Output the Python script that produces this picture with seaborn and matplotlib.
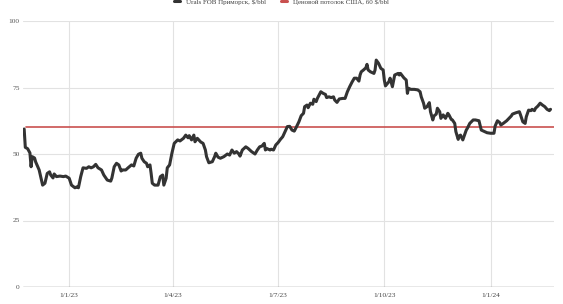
import pandas as pd
import numpy as np
import matplotlib
matplotlib.use("Agg")
import matplotlib.pyplot as plt
import matplotlib.dates as mdates
import seaborn as sns

base_date = "2023-01-01"
urals_day_offsets = [
    -39, -38, -36, -34, -33, -32, -30, -29, -26, -24, -23, -21, -19, -17, -16, -14, -13, -11, -8, -5, -3,
    0, 2, 5, 7, 8, 10, 12, 15, 17, 19, 21, 23, 25, 28, 30, 33, 36, 37, 39, 41, 43, 45, 46, 49, 51, 54, 56,
    58, 60, 62, 63, 65, 67, 68, 70, 71, 72, 74, 77, 79, 81, 82, 84, 85, 87, 89, 91, 94, 96, 99, 101, 103,
    104, 106, 108, 109, 111, 114, 116, 118, 119, 121, 124, 126, 127, 129, 131, 134, 137, 139, 141, 143,
    145, 147, 148, 150, 153, 155, 158, 161, 163, 165, 167, 169, 170, 171, 174, 175, 177, 179, 181, 183,
    185, 187, 189, 191, 193, 195, 197, 199, 201, 203, 204, 206, 207, 209, 211, 212, 214, 215, 218, 220,
    222, 223, 225, 227, 229, 230, 232, 234, 237, 239, 241, 243, 245, 247, 249, 251, 252, 253, 255, 257,
    258, 259, 261, 264, 265, 266, 268, 270, 272, 273, 274, 277, 278, 280, 282, 285, 286, 287, 290, 292,
    293, 294, 296, 299, 302, 304, 305, 307, 308, 310, 312, 313, 315, 316, 318, 319, 321, 322, 324, 325,
    326, 328, 329, 331, 332, 334, 335, 337, 338, 339, 341, 342, 344, 345, 347, 350, 352, 355, 357, 360,
    362, 365, 368, 369, 371, 373, 374, 376, 379, 381, 383, 384, 387, 390, 391, 393, 395, 396, 398, 400,
    401, 403, 404, 406, 408, 410, 412, 414, 416, 417,
]
urals_values = [
    59.4, 52.5, 52.0, 50.4, 45.2, 49.0, 48.5, 47.0, 44.0, 40.2, 38.3, 39.0, 42.7, 43.3, 42.1, 41.0, 42.5, 41.5, 41.7, 41.5, 41.7,
    40.9, 38.3, 37.3, 37.7, 37.3, 41.5, 44.8, 44.6, 45.2, 44.8, 45.2, 46.1, 44.8, 44.0, 42.1, 40.2, 39.8, 41.0, 45.2, 46.5, 45.9, 43.6, 44.0, 44.0, 44.8, 45.9, 45.5,
    48.4, 49.9, 50.3, 48.4, 47.1, 46.5, 45.2, 45.9, 42.7, 39.0, 38.3, 38.3, 41.5, 42.1, 38.3, 40.9, 44.8, 45.9, 50.3, 54.0, 55.3, 54.9, 55.9, 57.1, 56.1,
    56.9, 55.3, 57.1, 54.6, 55.9, 54.5, 54.0, 51.5, 49.0, 46.7, 47.1, 49.0, 50.3, 48.8, 48.4, 49.0, 50.0, 49.6, 51.5, 50.3,
    50.9, 50.0, 49.2, 51.5, 52.7, 52.1, 50.9, 50.0, 51.5, 52.7, 53.0, 54.0, 51.5, 52.1, 51.5, 51.8, 51.5, 53.4, 54.3, 55.5,
    56.5, 58.4, 60.3, 60.4, 59.0, 58.6, 60.3, 62.1, 64.4, 65.3, 67.8, 68.4, 67.4, 69.1, 68.7, 70.6, 69.7, 70.9, 73.4, 72.8,
    72.4, 71.2, 71.5, 71.2, 71.5, 70.3, 69.4, 70.7, 70.9, 70.9, 73.4, 75.3, 77.0, 78.5, 78.5, 77.4, 79.7, 80.9, 81.6, 82.4,
    83.7, 81.6, 80.9, 80.3, 81.6, 85.3, 84.1, 82.2, 81.6, 77.8, 75.6, 77.2, 78.5, 75.3, 79.7, 80.3, 79.7, 80.3, 78.6, 77.8,
    72.8, 74.7, 74.3, 74.3, 74.1, 73.4, 71.5, 69.1, 67.2, 67.8, 69.3, 65.9, 62.8, 64.3, 65.0, 67.2, 65.9, 63.4, 64.7, 64.0,
    63.4, 65.3, 64.7, 63.0, 62.8, 61.5, 58.4, 55.5, 56.8, 57.1, 55.3, 56.5, 59.0, 59.7, 61.5, 62.8, 62.8, 62.5, 59.0, 58.4,
    58.0, 57.8, 57.8, 60.5, 62.5, 61.8, 60.9, 61.5, 62.5, 63.4, 64.3, 65.0, 65.5, 65.9, 64.7, 62.1, 61.5, 64.0, 66.5, 66.3,
    66.8, 66.3, 67.2, 68.0, 69.1, 68.4, 67.8, 66.8, 66.3, 66.8,
]
cap_day_offsets = [-37, 420]
cap_values = [60, 60]
series_labels = ["Urals FOB Приморск, $/bbl", "Ценовой потолок США, 60 $/bbl"]
x_tick_dates = ["2023-01-01", "2023-04-01", "2023-07-01", "2023-10-01", "2024-01-01"]
x_tick_labels = ["1/1/23", "1/4/23", "1/7/23", "1/10/23", "1/1/24"]
y_ticks = [0, 25, 50, 75, 100]

b = pd.Timestamp(base_date)
urals = pd.DataFrame({"date": b + pd.to_timedelta(urals_day_offsets, unit="D"), "value": urals_values})
cap = pd.DataFrame({"date": b + pd.to_timedelta(cap_day_offsets, unit="D"), "value": cap_values})

sns.set_style("white")
plt.rcParams["font.family"] = ["Liberation Serif", "DejaVu Serif"]

fig = plt.figure(figsize=(5.63, 3.04), dpi=100)
ax = fig.add_axes([23 / 563, 1 - 287 / 304, (554 - 23) / 563, (287 - 21) / 304])

grid_c = "#e2e2e2"
for yt in y_ticks[1:]:
    ax.axhline(yt, color=grid_c, lw=0.8, zorder=0)
for xt in x_tick_dates:
    ax.axvline(pd.Timestamp(xt), color=grid_c, lw=0.8, zorder=0)
ax.axhline(0, color="#8a8a8a", lw=1.0, zorder=1)

sns.lineplot(data=cap, x="date", y="value", ax=ax, color="#c9504f", lw=1.2, label=series_labels[1], zorder=3)
sns.lineplot(data=urals, x="date", y="value", ax=ax, color="#333333", lw=2.2, label=series_labels[0], zorder=4)

ax.set_xlim(b + pd.Timedelta(days=-40), b + pd.Timedelta(days=420))
ax.set_ylim(0, 100)
for s in ax.spines.values():
    s.set_visible(False)
ax.set_xlabel("")
ax.set_ylabel("")
ax.set_xticks([pd.Timestamp(d) for d in x_tick_dates])
ax.set_xticklabels(x_tick_labels)
ax.set_yticks(y_ticks)
ax.set_yticklabels([str(v) for v in y_ticks])
ax.tick_params(axis="x", length=3, color=grid_c, labelsize=5.3, labelcolor="#444444", pad=1.5)
ax.tick_params(axis="y", length=0, labelsize=5.3, labelcolor="#555555", pad=2.5)

handles, labels = ax.get_legend_handles_labels()
order = [labels.index(series_labels[0]), labels.index(series_labels[1])]
leg = fig.legend([handles[i] for i in order], [labels[i] for i in order],
                 loc="upper center", bbox_to_anchor=(0.5, 1.025), ncol=2, frameon=False,
                 fontsize=5.0, handlelength=0.9, handletextpad=0.8, columnspacing=2.2)
for t in leg.get_texts():
    t.set_color("#444444")
for l in leg.get_lines():
    l.set_linewidth(2.2)
ax.get_legend().remove()

fig.savefig("out.png", dpi=100)
